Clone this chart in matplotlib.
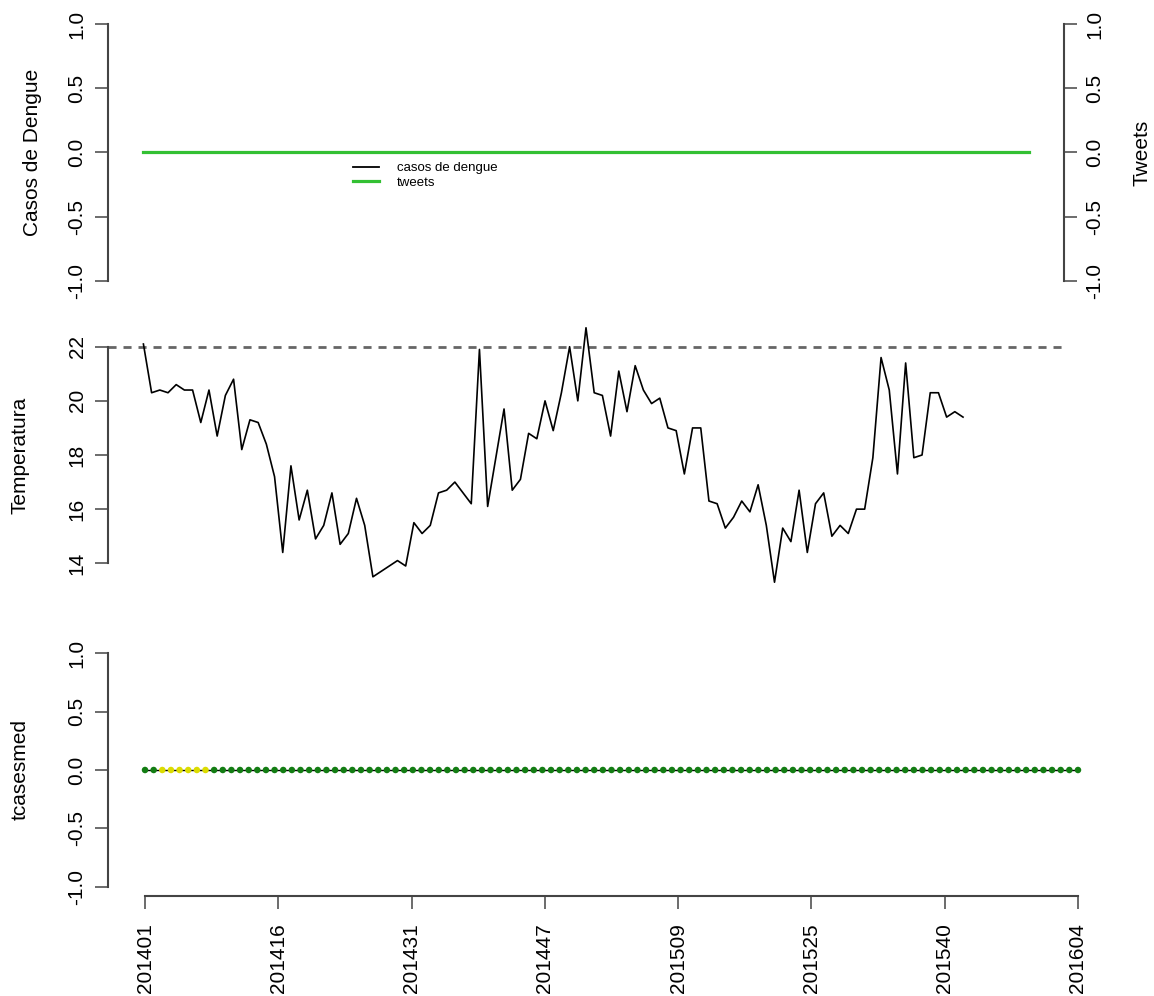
import numpy as np
import matplotlib
matplotlib.use("Agg")
import matplotlib.pyplot as plt
from matplotlib.lines import Line2D

plt.rcParams['font.family'] = ['Liberation Sans', 'DejaVu Sans']
plt.rcParams['axes.unicode_minus'] = False

# Data (epidemiological weeks 201401 .. 201604, 109 weeks)
week_labels = ["201401", "201416", "201431", "201447", "201509", "201525", "201540", "201604"]
n_weeks = 109

casos = [0.0] * n_weeks
tweets = [0.0] * n_weeks

temperatura = [
    22.1, 20.3, 20.4, 20.3, 20.6, 20.4, 20.4, 19.2, 20.4, 18.7,
    20.2, 20.8, 18.2, 19.3, 19.2, 18.4, 17.2, 14.4, 17.6, 15.6,
    16.7, 14.9, 15.4, 16.6, 14.7, 15.1, 16.4, 15.4, 13.5, 13.7,
    13.9, 14.1, 13.9, 15.5, 15.1, 15.4, 16.6, 16.7, 17.0, 16.6,
    16.2, 21.9, 16.1, 17.9, 19.7, 16.7, 17.1, 18.8, 18.6, 20.0,
    18.9, 20.3, 22.0, 20.0, 22.7, 20.3, 20.2, 18.7, 21.1, 19.6,
    21.3, 20.4, 19.9, 20.1, 19.0, 18.9, 17.3, 19.0, 19.0, 16.3,
    16.2, 15.3, 15.7, 16.3, 15.9, 16.9, 15.4, 13.3, 15.3, 14.8,
    16.7, 14.4, 16.2, 16.6, 15.0, 15.4, 15.1, 16.0, 16.0, 17.9,
    21.6, 20.4, 17.3, 21.4, 17.9, 18.0, 20.3, 20.3, 19.4, 19.6,
    19.4,
]
temp_ref = 22

tcasesmed = [0.0] * n_weeks
# alert level per week: 1 = green, 2 = yellow
alerta = [1, 1, 2, 2, 2, 2, 2, 2] + [1] * (n_weeks - 8)

W, H = 1154, 996
fig = plt.figure(figsize=(W / 100, H / 100), dpi=100)


def add_ax(x0, x1, y0, y1):
    return fig.add_axes([x0 / W, 1 - y1 / H, (x1 - x0) / W, (y1 - y0) / H])


axis_col = "#444444"
fs = 15
tick_kw = dict(length=9.4, width=1.1, color=axis_col, labelsize=fs, pad=6)


def style_y(ax, lo, hi, side="left"):
    for s in ax.spines.values():
        s.set_visible(False)
    ax.spines[side].set_visible(True)
    ax.spines[side].set_bounds(lo, hi)
    ax.spines[side].set_color(axis_col)
    ax.spines[side].set_linewidth(1.5)
    ax.tick_params(axis='y', **tick_kw)
    ax.tick_params(axis='x', bottom=False, labelbottom=False)
    for lab in ax.get_yticklabels():
        lab.set_rotation(90)
        lab.set_va('center')


xs = np.arange(n_weeks)
xlim = (-0.04 * (n_weeks - 1), 1.04 * (n_weeks - 1))

# ---- top: casos de dengue / tweets
ax1 = add_ax(108, 1064, 13.7, 291.3)
ax1.plot(xs, casos, color="black", lw=1.3)
ax1.plot(xs, tweets, color="#33c033", lw=2.3)
ax1.set_xlim(xlim)
ax1.set_ylim(-1.08, 1.08)
ax1.set_yticks([-1.0, -0.5, 0.0, 0.5, 1.0])
style_y(ax1, -1, 1)
ax1.set_ylabel("Casos de Dengue", fontsize=fs, va='center')
ax1.yaxis.set_label_coords((33 - 108) / 956, 0.5)

ax1r = ax1.twinx()
ax1r.set_ylim(-1.08, 1.08)
ax1r.set_yticks([-1.0, -0.5, 0.0, 0.5, 1.0])
style_y(ax1r, -1, 1, side="right")
ax1r.set_ylabel("Tweets", fontsize=fs, va='center', rotation=90)
ax1r.yaxis.set_label_coords((1142 - 108) / 956, 0.5)

handles = [Line2D([], [], color="black", lw=1.3),
           Line2D([], [], color="#33c033", lw=2.3)]
ax1.legend(handles, ["casos de dengue", "tweets"], loc="upper left",
           bbox_to_anchor=(353 / W, 1 - 162 / H), bbox_transform=fig.transFigure,
           frameon=False, fontsize=9.5, borderaxespad=0, borderpad=0,
           handlelength=2.0, handletextpad=1.3, labelspacing=0.2)

# ---- middle: temperatura
ax2 = add_ax(108, 1064, 316.4, 593.6)
ax2.axhline(temp_ref, color="#666666", lw=2, linestyle=(0, (2.9, 2.5)))
ax2.plot(np.arange(len(temperatura)), temperatura, color="black", lw=1.2)
ax2.set_xlim(xlim)
ax2.set_ylim(12.88, 23.12)
ax2.set_yticks([14, 16, 18, 20, 22])
style_y(ax2, 14, 22)
ax2.set_ylabel("Temperatura", fontsize=fs, va='center')
ax2.yaxis.set_label_coords((20 - 108) / 956, 0.5)

# ---- bottom: tcasesmed
ax3 = add_ax(107.7, 1115.3, 644, 896)
cores = {1: "#137d13", 2: "#dcdc00"}
ax3.plot(xs, tcasesmed, color="black", lw=1.0, zorder=1)
ax3.scatter(xs, tcasesmed, c=[cores[a] for a in alerta], s=22, zorder=2, linewidths=0)
ax3.set_xlim(xlim)
ax3.set_ylim(-1.08, 1.08)
ax3.set_yticks([-1.0, -0.5, 0.0, 0.5, 1.0])
style_y(ax3, -1, 1)
ax3.spines['bottom'].set_visible(True)
ax3.spines['bottom'].set_bounds(0, n_weeks - 1)
ax3.spines['bottom'].set_color(axis_col)
ax3.spines['bottom'].set_linewidth(1.5)
ax3.set_xticks(np.linspace(0, n_weeks - 1, len(week_labels)))
ax3.set_xticklabels(week_labels, rotation=90)
ax3.tick_params(axis='x', bottom=True, labelbottom=True, length=9.4, width=1.1,
                color=axis_col, labelsize=fs, pad=10)
ax3.set_ylabel("tcasesmed", fontsize=fs, va='center')
ax3.yaxis.set_label_coords((20 - 107.7) / 1007.6, 0.5)

fig.savefig("out.png", dpi=100)
